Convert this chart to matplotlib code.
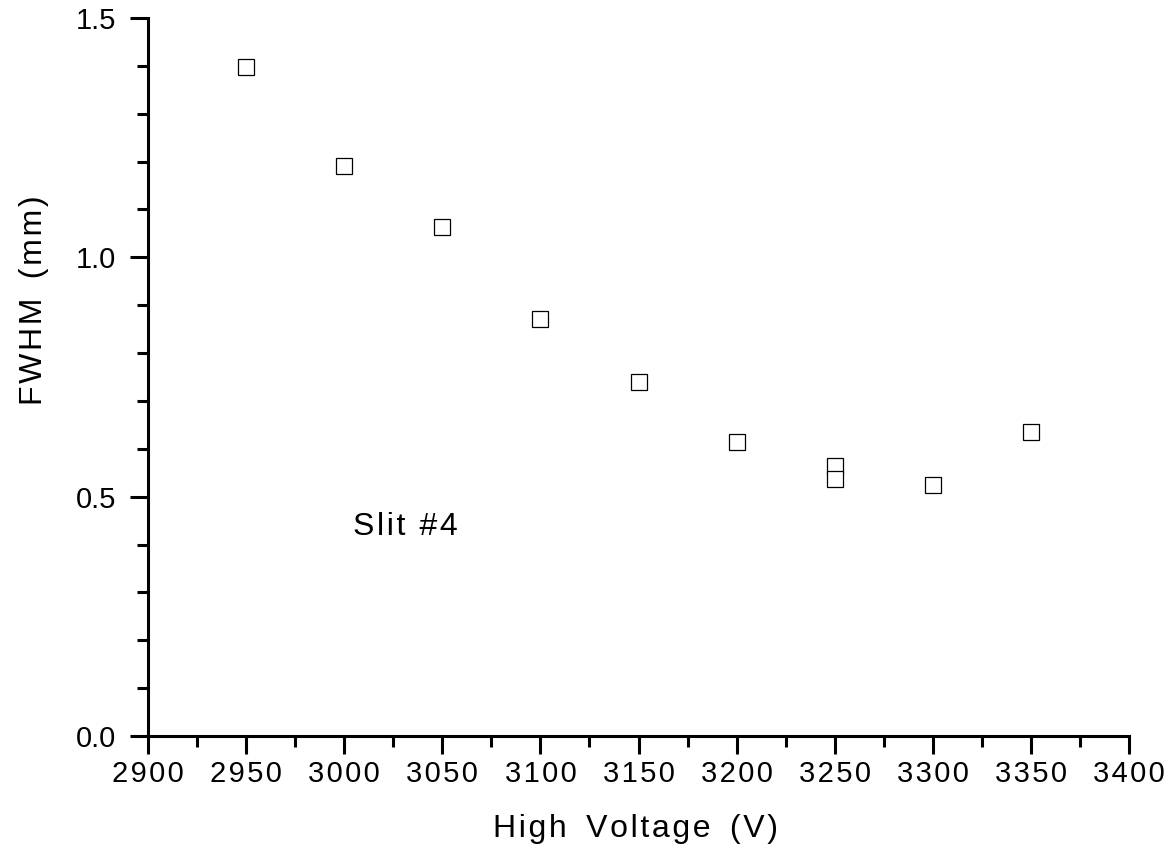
import matplotlib
matplotlib.use('Agg')
import matplotlib.pyplot as plt
from matplotlib.ticker import MultipleLocator, FuncFormatter

plt.rcParams['font.family'] = ['Liberation Sans', 'DejaVu Sans']

voltage = [2950, 3000, 3050, 3100, 3150, 3200, 3250, 3250, 3300, 3350]
fwhm = [1.397, 1.191, 1.063, 0.871, 0.740, 0.614, 0.565, 0.537, 0.524, 0.635]

HS = '\u200a'  # hair space, to mimic the wide letter spacing


def spaced(s):
    out = HS.join(s)
    return out.replace(' ', HS + ' ' + HS)


fig = plt.figure(figsize=(11.64, 8.46), dpi=100)
ax = fig.add_axes([0.1271, 0.130, 0.8429, 0.8487])

for x, y in zip(voltage, fwhm):
    ax.plot(x, y, marker='s', markersize=12, markerfacecolor='white',
            markeredgecolor='black', markeredgewidth=0.9, linestyle='none')

ax.set_xlim(2900, 3400)
ax.set_ylim(0, 1.5)
ax.xaxis.set_major_locator(MultipleLocator(50))
ax.xaxis.set_minor_locator(MultipleLocator(25))
ax.yaxis.set_major_locator(MultipleLocator(0.5))
ax.yaxis.set_minor_locator(MultipleLocator(0.1))
ax.xaxis.set_major_formatter(FuncFormatter(lambda v, p: spaced('%d' % v)))
ax.yaxis.set_major_formatter(plt.FormatStrFormatter('%.1f'))

for s in ['top', 'right']:
    ax.spines[s].set_visible(False)
for s in ['left', 'bottom']:
    ax.spines[s].set_linewidth(2.2)

ax.tick_params(which='major', direction='out', length=13, width=2.2, labelsize=21)
ax.tick_params(axis='x', which='major', pad=4)
ax.tick_params(axis='y', which='major', pad=10)
ax.tick_params(which='minor', direction='out', length=8, width=2.2)

ax.set_xlabel(spaced('High Voltage (V)'), fontsize=23, va='center')
ax.xaxis.set_label_coords(0.497, -0.129)
ax.set_ylabel(spaced('FWHM (mm)'), fontsize=23, va='center')
ax.yaxis.set_label_coords(-0.116, 0.607)
ax.text(3031, 0.436, HS.join('Slit #4'), fontsize=23, ha='center', va='center')

plt.savefig('out.png', dpi=100)
plt.close()
